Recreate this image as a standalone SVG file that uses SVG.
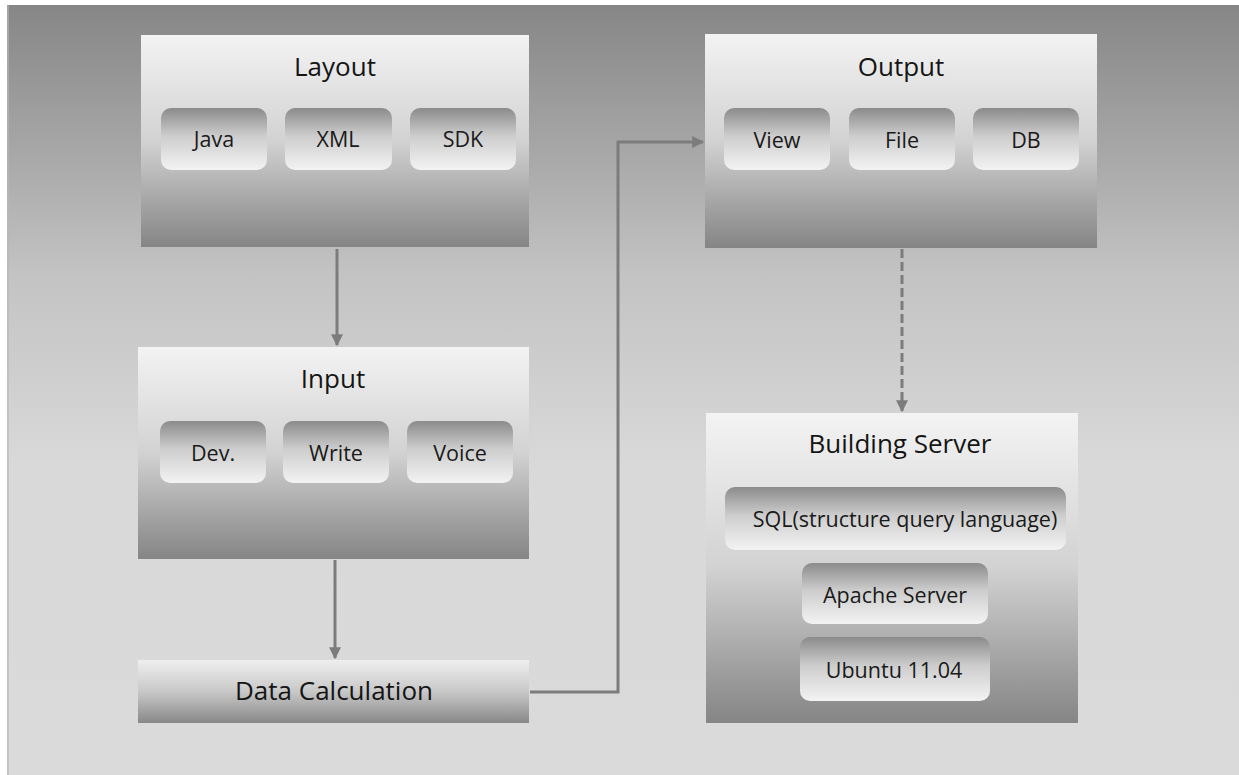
<svg xmlns="http://www.w3.org/2000/svg" width="1239" height="775" viewBox="0 0 1239 775">
  <defs>
    <linearGradient id="bg" x1="0" y1="0" x2="0" y2="1">
      <stop offset="0" stop-color="#868686"/>
      <stop offset="0.35" stop-color="#c3c3c3"/>
      <stop offset="0.6" stop-color="#d9d9d9"/>
      <stop offset="1" stop-color="#dadada"/>
    </linearGradient>
    <linearGradient id="panel" x1="0" y1="0" x2="0" y2="1">
      <stop offset="0" stop-color="#f3f3f3"/>
      <stop offset="0.5" stop-color="#d2d2d2"/>
      <stop offset="0.75" stop-color="#ababab"/>
      <stop offset="1" stop-color="#858585"/>
    </linearGradient>
    <linearGradient id="chip" x1="0" y1="0" x2="0" y2="1">
      <stop offset="0" stop-color="#8b8b8b"/>
      <stop offset="0.45" stop-color="#cdcdcd"/>
      <stop offset="1" stop-color="#f3f3f3"/>
    </linearGradient>
    <linearGradient id="bar" x1="0" y1="0" x2="0" y2="1">
      <stop offset="0" stop-color="#efefef"/>
      <stop offset="0.5" stop-color="#c8c8c8"/>
      <stop offset="1" stop-color="#888888"/>
    </linearGradient>
    <marker id="arrow" viewBox="0 0 10 10" refX="9" refY="5" markerWidth="4" markerHeight="4" orient="auto" markerUnits="strokeWidth">
      <path d="M0,0 L10,5 L0,10 Z" fill="#7c7c7c"/>
    </marker>
  </defs>
  <style>
    .panel { fill: url(#panel); }
    .chip { fill: url(#chip); }
    .bar { fill: url(#bar); }
    .title { font-family: "Open Sans", "Noto Sans", sans-serif; font-size: 26px; fill: #151515; text-anchor: middle; }
    .label { font-family: "Open Sans", "Noto Sans", sans-serif; font-size: 21.5px; fill: #1a1a1a; text-anchor: middle; }
    .link { fill: none; stroke: #7c7c7c; stroke-width: 3; }
    .dash { stroke-dasharray: 9 4; }
  </style>

  <rect x="0" y="0" width="1239" height="775" fill="#ffffff"/>
  <rect x="7" y="5" width="1232" height="770" fill="url(#bg)"/>
  <rect x="7" y="5" width="2" height="770" fill="#b8b8b8" opacity="0.6"/>

  <g id="connectors">
    <line class="link" x1="337" y1="249" x2="337" y2="345" marker-end="url(#arrow)"/>
    <line class="link" x1="335" y1="560" x2="335" y2="658" marker-end="url(#arrow)"/>
    <polyline class="link" points="530,692 618,692 618,142 703,142" marker-end="url(#arrow)"/>
    <line class="link dash" x1="902" y1="249" x2="902" y2="411" marker-end="url(#arrow)"/>
  </g>

  <g id="layout">
    <rect class="panel" x="141" y="35" width="388" height="212"/>
    <text class="title" x="335" y="76">Layout</text>
    <rect class="chip" x="161" y="108" width="106" height="62" rx="10"/>
    <text class="label" x="214" y="147">Java</text>
    <rect class="chip" x="285" y="108" width="107" height="62" rx="10"/>
    <text class="label" x="338" y="147">XML</text>
    <rect class="chip" x="410" y="108" width="106" height="62" rx="10"/>
    <text class="label" x="463" y="147">SDK</text>
  </g>

  <g id="input">
    <rect class="panel" x="138" y="347" width="391" height="212"/>
    <text class="title" x="333" y="388">Input</text>
    <rect class="chip" x="160" y="421" width="106" height="62" rx="10"/>
    <text class="label" x="213" y="461">Dev.</text>
    <rect class="chip" x="283" y="421" width="106" height="62" rx="10"/>
    <text class="label" x="336" y="461">Write</text>
    <rect class="chip" x="407" y="421" width="106" height="62" rx="10"/>
    <text class="label" x="460" y="461">Voice</text>
  </g>

  <g id="data-calculation">
    <rect class="bar" x="138" y="660" width="391" height="63"/>
    <text class="title" x="334" y="700">Data Calculation</text>
  </g>

  <g id="output">
    <rect class="panel" x="705" y="34" width="392" height="214"/>
    <text class="title" x="901" y="76">Output</text>
    <rect class="chip" x="724" y="108" width="106" height="62" rx="10"/>
    <text class="label" x="777" y="148">View</text>
    <rect class="chip" x="849" y="108" width="106" height="62" rx="10"/>
    <text class="label" x="902" y="148">File</text>
    <rect class="chip" x="973" y="108" width="106" height="62" rx="10"/>
    <text class="label" x="1026" y="148">DB</text>
  </g>

  <g id="building-server">
    <rect class="panel" x="706" y="413" width="372" height="310"/>
    <text class="title" x="900" y="453">Building Server</text>
    <rect class="chip" x="725" y="487" width="341" height="63" rx="10"/>
    <text class="label" x="905" y="527">SQL(structure query language)</text>
    <rect class="chip" x="802" y="563" width="186" height="61" rx="10"/>
    <text class="label" x="895" y="603">Apache Server</text>
    <rect class="chip" x="800" y="637" width="190" height="64" rx="10"/>
    <text class="label" x="894" y="678">Ubuntu 11.04</text>
  </g>
</svg>
